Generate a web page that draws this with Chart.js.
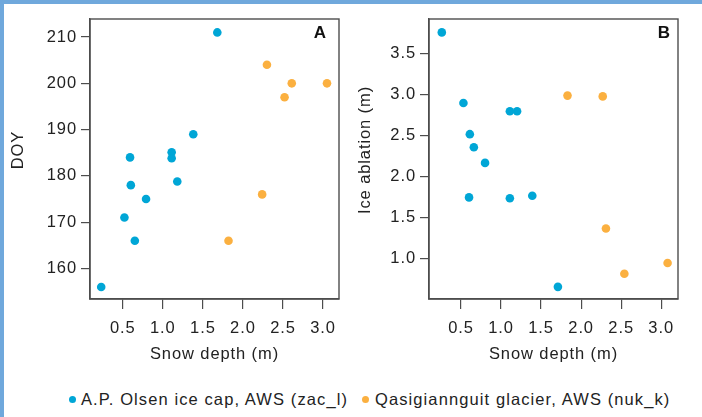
<!DOCTYPE html>
<html>
<head>
<meta charset="utf-8">
<script src="https://cdn.jsdelivr.net/npm/chart.js@4"></script>
<style>
  body { margin: 0; background: #fff; width: 702px; height: 417px; overflow: hidden; position: relative; font-family: "Liberation Sans", Arial, sans-serif; }
  canvas { position: absolute; top: 0; }
  #chartA { left: 0; }
  #chartB { left: 350px; }
  .edge { position: absolute; background: #6fa8dc; z-index: 2; }
  #legend { position: absolute; top: 389px; left: 0; width: 702px; height: 20px; font-size: 16.5px; letter-spacing: 1.1px; color: #222; }
  .item { position: absolute; top: 0; line-height: 20px; white-space: nowrap; }
  .dot { position: absolute; width: 7px; height: 7px; border-radius: 50%; top: 6.5px; }
</style>
</head>
<body>
<div class="edge" style="left:0;top:0;width:702px;height:4px"></div>
<div class="edge" style="left:0;top:0;width:4px;height:417px"></div>
<canvas id="chartA" width="350" height="375"></canvas>
<canvas id="chartB" width="352" height="375"></canvas>
<div id="legend">
  <span class="dot" style="left:69px;background:#00a6d6"></span>
  <span class="item" style="left:81px">A.P. Olsen ice cap, AWS (zac_l)</span>
  <span class="dot" style="left:362px;background:#fbb040"></span>
  <span class="item" style="left:375px">Qasigiannguit glacier, AWS (nuk_k)</span>
</div>
<script>
// panel A: snow depth vs DOY
var aBlueX = [1.68, 0.59, 0.60, 0.79, 1.11, 1.11, 1.18, 1.38, 0.52, 0.65, 0.23];
var aBlueY = [211, 184, 178, 175, 185.1, 183.8, 178.8, 189, 171, 166, 156];
var aOrangeX = [2.30, 2.61, 2.52, 3.05, 2.24, 1.82];
var aOrangeY = [204, 200, 197, 200, 176, 166];

// panel B: snow depth vs ice ablation
var bBlueX = [0.26, 0.53, 0.61, 0.66, 0.80, 1.11, 1.20, 0.60, 1.11, 1.39, 1.71];
var bBlueY = [3.76, 2.90, 2.52, 2.36, 2.17, 2.80, 2.80, 1.75, 1.74, 1.77, 0.66];
var bOrangeX = [1.83, 2.27, 2.31, 2.54, 3.08];
var bOrangeY = [2.99, 2.98, 1.37, 0.82, 0.95];

var xTicks = [0.5, 1.0, 1.5, 2.0, 2.5, 3.0];
var yTicksA = [160, 170, 180, 190, 200, 210];
var yTicksB = [1.0, 1.5, 2.0, 2.5, 3.0, 3.5];

var BLUE = "#00a6d6";
var ORANGE = "#fbb040";
var INK = "#222";
var FRAME = "#4d4d4d";
var FONT = "'Liberation Sans', Arial, sans-serif";
var FSIZE = 16.5;

function pts(xs, ys) {
    return xs.map(function (x, i) { return { x: x, y: ys[i] }; });
}

// box around the plot, panel letter and y title
var panelDeco = {
    id: "panelDeco",
    beforeDraw: function (chart) {
        chart.ctx.letterSpacing = "0.9px";
    },
    afterDraw: function (chart, args, opts) {
        var ctx = chart.ctx;
        var a = chart.chartArea;
        ctx.save();
        ctx.strokeStyle = FRAME;
        ctx.lineWidth = 1.4;
        ctx.strokeRect(a.left, a.top, a.right - a.left, a.bottom - a.top);

        ctx.fillStyle = "#111";
        ctx.font = "bold 17px " + FONT;
        ctx.textAlign = "right";
        ctx.textBaseline = "middle";
        ctx.fillText(opts.letter, a.right - opts.letterInset, 33);

        ctx.fillStyle = INK;
        ctx.font = FSIZE + "px " + FONT;
        ctx.textAlign = "center";
        ctx.translate(opts.titleX, 150);
        ctx.rotate(-Math.PI / 2);
        ctx.fillText(opts.title, 0, 0);
        ctx.restore();
    }
};

function makeChart(id, blue, orange, xr, yr, yTicks, yFmt, deco, axisW, padRight) {
    var ctx = document.getElementById(id).getContext("2d");
    return new Chart(ctx, {
        type: "scatter",
        data: {
            datasets: [
                { label: "A.P. Olsen ice cap, AWS (zac_l)", data: blue, backgroundColor: BLUE, borderWidth: 0, pointRadius: 4.3 },
                { label: "Qasigiannguit glacier, AWS (nuk_k)", data: orange, backgroundColor: ORANGE, borderWidth: 0, pointRadius: 4.3 }
            ]
        },
        options: {
            responsive: false,
            animation: false,
            devicePixelRatio: 1,
            layout: { padding: { top: 19, right: padRight, left: 0, bottom: 0 } },
            events: [],
            plugins: {
                legend: { display: false },
                tooltip: { enabled: false },
                panelDeco: deco
            },
            scales: {
                x: {
                    type: "linear",
                    min: xr[0],
                    max: xr[1],
                    afterBuildTicks: function (s) { s.ticks = xTicks.map(function (v) { return { value: v }; }); },
                    afterFit: function (s) { s.height = 76; },
                    border: { display: true, color: FRAME, width: 1.4 },
                    grid: { drawOnChartArea: false, drawTicks: true, tickLength: 10, color: FRAME, lineWidth: 1.2 },
                    ticks: {
                        padding: 10,
                        maxRotation: 0,
                        color: INK,
                        font: { family: FONT, size: FSIZE },
                        callback: function (v) { return v.toFixed(1); }
                    },
                    title: {
                        display: true,
                        text: "Snow depth (m)",
                        color: INK,
                        font: { family: FONT, size: FSIZE },
                        padding: { top: 0, bottom: 11 }
                    }
                },
                y: {
                    type: "linear",
                    min: yr[0],
                    max: yr[1],
                    afterBuildTicks: function (s) { s.ticks = yTicks.map(function (v) { return { value: v }; }); },
                    afterFit: function (s) { s.width = axisW; },
                    border: { display: true, color: FRAME, width: 1.4 },
                    grid: { drawOnChartArea: false, drawTicks: true, tickLength: 9, color: FRAME, lineWidth: 1.2 },
                    ticks: {
                        padding: 4,
                        color: INK,
                        font: { family: FONT, size: FSIZE },
                        callback: yFmt
                    }
                }
            }
        },
        plugins: [panelDeco]
    });
}

makeChart("chartA", pts(aBlueX, aBlueY), pts(aOrangeX, aOrangeY),
    [0.09, 3.2], [153.4, 213.9], yTicksA,
    function (v) { return String(v); },
    { letter: "A", letterInset: 12, title: "DOY", titleX: 18 },
    90, 11);

makeChart("chartB", pts(bBlueX, bBlueY), pts(bOrangeX, bOrangeY),
    [0.1, 3.21], [0.512, 3.923], yTicksB,
    function (v) { return v.toFixed(1); },
    { letter: "B", letterInset: 7, title: "Ice ablation (m)", titleX: 15.5 },
    79, 24);
</script>
</body>
</html>
